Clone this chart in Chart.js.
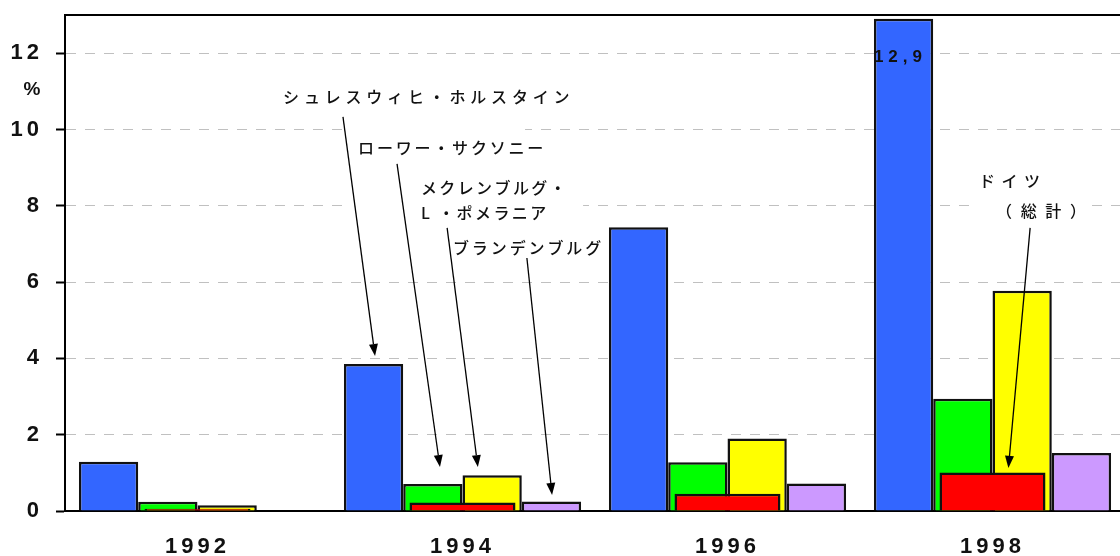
<!DOCTYPE html>
<html>
<head>
<meta charset="utf-8">
<title>州別の推移</title>
<style>
  html, body { margin: 0; padding: 0; background: #fff; overflow: hidden; }
  #wrap { width: 1125px; height: 556px; position: relative; }
</style>
</head>
<body>
<div id="wrap"><canvas id="chart"></canvas></div>
<script src="https://cdn.jsdelivr.net/npm/chart.js"></script>
<script>
// 年ごとの値 (%)
var years = ["1992", "1994", "1996", "1998"];
var schleswigHolstein = [1.29, 3.85, 7.44, 12.9];
var lowerSaxony = [0.24, 0.71, 1.28, 2.94];
var mecklenburg = [0.15, 0.94, 1.9, 5.77];
var brandenburg = [0, 0.25, 0.72, 1.52];
var germanyTotal = [0.06, 0.22, 0.45, 1.01];
var yStep = 2;
var yMax = 13;

var latinFont = "'Liberation Sans', Arial, sans-serif";
var jpFont = "'Noto Sans CJK JP', 'Noto Sans', sans-serif";

// 注記: x はカテゴリ単位, y は % 単位
var callouts = [
  { text: "シュレスウィヒ・ホルスタイン", x: 0.323, y: 10.85, sp: 4.8 },
  { text: "ローワー・サクソニー", x: 0.606, y: 9.51, sp: 2.8 },
  { text: "メクレンブルグ・", x: 0.843, y: 8.47, sp: 2.4 },
  { text: "L ・ポメラニア", x: 0.843, y: 7.81, sp: 2.4 },
  { text: "ブランデンブルグ", x: 0.964, y: 6.89, sp: 2.9 },
  { text: "ドイツ", x: 2.949, y: 8.65, sp: 6.5 },
  { text: "（総計）", x: 3.013, y: 7.86, sp: 8.7 }
];
var calloutBoxes = [
  { x1: 0.557, x2: 1.236, y1: 8.94, y2: 10.12 },
  { x1: 0.557, x2: 1.455, y1: 7.5, y2: 8.81 },
  { x1: 2.934, x2: 3.368, y1: 7.5, y2: 9.07 }
];
var arrows = [
  { x1: 0.549, y1: 10.33, x2: 0.67, y2: 4.06 },
  { x1: 0.753, y1: 9.1, x2: 0.915, y2: 1.15 },
  { x1: 0.942, y1: 7.42, x2: 1.058, y2: 1.15 },
  { x1: 1.243, y1: 6.63, x2: 1.338, y2: 0.42 },
  { x1: 3.142, y1: 7.42, x2: 3.06, y2: 1.13 }
];

function toPx(chart, cx, cy) {
  var xs = chart.scales.x, ys = chart.scales.y;
  var step = xs.getPixelForValue(1) - xs.getPixelForValue(0);
  return { x: xs.getPixelForValue(0) + cx * step, y: ys.getPixelForValue(cy) };
}

function spacedText(ctx, text, x, y, sp) {
  for (var i = 0; i < text.length; i++) {
    ctx.fillText(text[i], x, y);
    x += ctx.measureText(text[i]).width + sp;
  }
}

function drawArrow(ctx, x1, y1, x2, y2) {
  var a = Math.atan2(y2 - y1, x2 - x1);
  var len = 12, half = 4.5;
  var bx = x2 - len * Math.cos(a), by = y2 - len * Math.sin(a);
  ctx.beginPath();
  ctx.moveTo(x1, y1);
  ctx.lineTo(bx, by);
  ctx.stroke();
  ctx.beginPath();
  ctx.moveTo(x2, y2);
  ctx.lineTo(bx + half * Math.sin(a), by - half * Math.cos(a));
  ctx.lineTo(bx - half * Math.sin(a), by + half * Math.cos(a));
  ctx.closePath();
  ctx.fill();
}

var decorations = {
  id: "decorations",
  beforeDraw: function (chart) {
    chart.ctx.letterSpacing = "4px";
  },
  beforeDatasetsDraw: function (chart) {
    var ctx = chart.ctx;
    ctx.save();
    ctx.fillStyle = "#fff";
    calloutBoxes.forEach(function (b) {
      var p1 = toPx(chart, b.x1, b.y2), p2 = toPx(chart, b.x2, b.y1);
      ctx.fillRect(p1.x, p1.y, p2.x - p1.x, p2.y - p1.y);
    });
    ctx.restore();
  },
  afterDatasetsDraw: function (chart) {
    var ctx = chart.ctx, area = chart.chartArea;
    ctx.save();
    ctx.letterSpacing = "0px";

    // 上枠
    ctx.strokeStyle = "#000";
    ctx.lineWidth = 2;
    ctx.beginPath();
    ctx.moveTo(area.left, area.top);
    ctx.lineTo(area.right, area.top);
    ctx.stroke();

    // 単位
    ctx.fillStyle = "#111";
    ctx.font = "bold 19px " + latinFont;
    ctx.textAlign = "center";
    ctx.textBaseline = "middle";
    ctx.fillText("%", 32, chart.scales.y.getPixelForValue(11.05));

    // 1998年の値ラベル
    var bar = chart.getDatasetMeta(0).data[3];
    ctx.font = "bold 17px " + latinFont;
    ctx.textAlign = "left";
    spacedText(ctx, String(schleswigHolstein[3]).replace(".", ","), bar.x - bar.width / 2, bar.y + 38, 5);

    // 州名
    ctx.font = "500 16px " + jpFont;
    callouts.forEach(function (c) {
      var p = toPx(chart, c.x, c.y);
      spacedText(ctx, c.text, p.x, p.y, c.sp);
    });

    // 矢印
    ctx.strokeStyle = "#000";
    ctx.fillStyle = "#000";
    ctx.lineWidth = 1.3;
    arrows.forEach(function (a) {
      var p1 = toPx(chart, a.x1, a.y1), p2 = toPx(chart, a.x2, a.y2);
      drawArrow(ctx, p1.x, p1.y, p2.x, p2.y);
    });
    ctx.restore();
  }
};

var chart = new Chart(document.getElementById("chart"), {
  type: "bar",
  data: {
    labels: years,
    datasets: [
      { data: schleswigHolstein, backgroundColor: "#3366ff" },
      { data: lowerSaxony, backgroundColor: "#00ff00" },
      { data: mecklenburg, backgroundColor: "#ffff00" },
      { data: brandenburg, backgroundColor: "#cc99ff" },
      // ドイツ総計は各グループの中央に重ねて描く
      { data: germanyTotal, backgroundColor: "#ff0000", grouped: false, order: -1,
        barPercentage: 0.4, categoryPercentage: 1 }
    ]
  },
  options: {
    responsive: true,
    maintainAspectRatio: false,
    animation: false,
    layout: { padding: { top: 15, right: 0, bottom: 0, left: 0 } },
    datasets: {
      bar: { categoryPercentage: 0.895, barPercentage: 1, borderColor: "#111", borderWidth: 2.5 }
    },
    plugins: { legend: { display: false }, tooltip: { enabled: false } },
    scales: {
      x: {
        offset: true,
        grid: { display: false },
        border: { display: true, color: "#000", width: 2 },
        ticks: { color: "#111", padding: 15, font: { family: latinFont, size: 22, weight: "bold" } },
        afterFit: function (s) { s.height = 45; s.paddingLeft = 0; s.paddingRight = 0; }
      },
      y: {
        min: 0,
        max: yMax,
        grid: {
          color: function (c) { return c.tick && c.tick.value === 0 ? "rgba(0,0,0,0)" : "#c0c0c0"; },
          lineWidth: 1,
          tickLength: 9,
          tickColor: "#000",
          tickWidth: 2
        },
        border: { color: "#000", width: 2, dash: [10, 9] },
        ticks: { stepSize: yStep, includeBounds: false, padding: 13, color: "#111",
          font: { family: latinFont, size: 22, weight: "bold" } },
        afterFit: function (s) { s.width = 65; s.paddingTop = 0; s.paddingBottom = 0; }
      }
    }
  },
  plugins: [decorations]
});
</script>
</body>
</html>
